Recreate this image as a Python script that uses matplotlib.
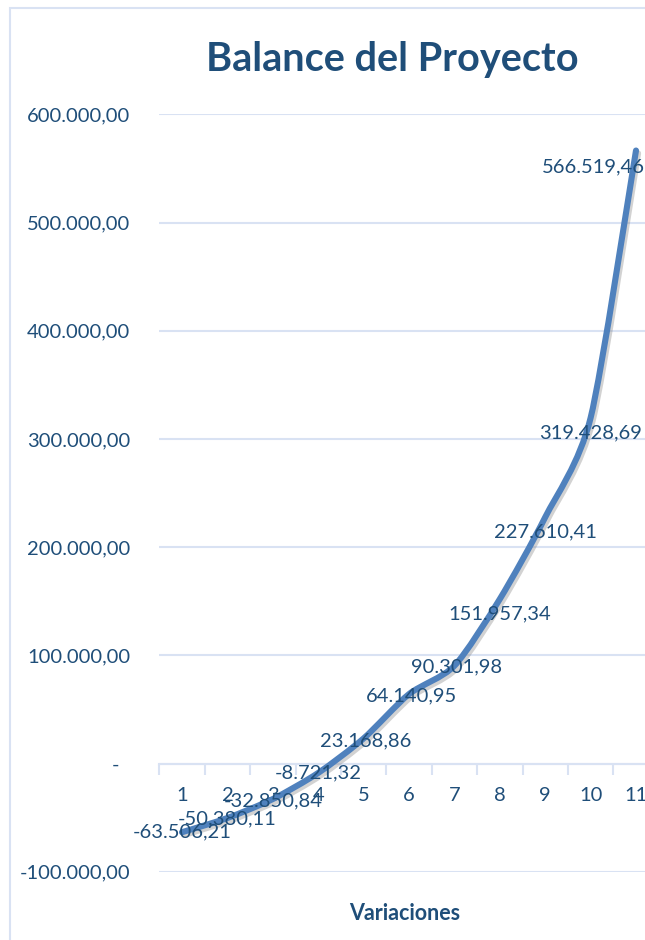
import numpy as np
import matplotlib
matplotlib.use("Agg")
import matplotlib.pyplot as plt
from matplotlib.path import Path
from matplotlib.patches import PathPatch, Rectangle
import matplotlib.patheffects as pe
from matplotlib.ticker import FuncFormatter, FixedLocator

# Balance del proyecto por variación
variaciones = [1, 2, 3, 4, 5, 6, 7, 8, 9, 10, 11]
balance = [-63506.21, -50380.11, -32850.84, -8721.32, 23168.86, 64140.95,
           90301.98, 151957.34, 227610.41, 319428.69, 566519.46]
y_ticks = [-100000, 0, 100000, 200000, 300000, 400000, 500000, 600000]

# offsets (pixels) for the value labels
label_dx = [0, 0, 0, 0, 2, 2, 2, 0, 0, 0, -94]
label_dy = [0, -1, -2, 0, -2, -2, -1, -15, -15, -15, -16]

azul = "#1F4E79"
linea = "#4F81BD"
rejilla = "#D9E2F3"

plt.rcParams['font.family'] = ['Lato', 'DejaVu Sans']


def es_num(v):
    s = f"{abs(v):,.2f}".replace(",", "X").replace(".", ",").replace("X", ".")
    return ("-" if v < 0 else "") + s


def fmt_y(v, pos):
    if abs(v) < 1e-9:
        return "-  "
    return es_num(v)


fig = plt.figure(figsize=(6.45, 9.40), dpi=100)
W, H = 645, 940
ax = fig.add_axes([159.3 / W, 1 - 871.7 / H, 499.4 / W, 757.4 / H])

# smoothed line as cubic bezier segments
tension = 1 / 8.0
pts = np.column_stack([variaciones, balance]).astype(float)
ext = np.vstack([pts[0], pts, pts[-1]])
verts = [tuple(pts[0])]
codes = [Path.MOVETO]
for i in range(1, len(ext) - 2):
    p0, p1, p2, p3 = ext[i - 1], ext[i], ext[i + 1], ext[i + 2]
    c1 = p1 + (p2 - p0) * tension
    c2 = p2 - (p3 - p1) * tension
    verts += [tuple(c1), tuple(c2), tuple(p2)]
    codes += [Path.CURVE4] * 3
curva = PathPatch(Path(verts, codes), facecolor="none", edgecolor=linea,
                  lw=4.4, capstyle="round", joinstyle="round", zorder=3)
curva.set_path_effects([pe.SimpleLineShadow(offset=(1.5, -2), shadow_color="gray", alpha=0.35),
                        pe.Normal()])
ax.add_patch(curva)

ax.set_xlim(0.5, 11.5)
ax.set_ylim(-100000, 600000)

# value labels
for x, v, dx, dy in zip(variaciones, balance, label_dx, label_dy):
    ha = "left" if dx < -50 else "center"
    ax.annotate(es_num(v), xy=(x, v), xytext=(dx, dy), textcoords="offset pixels",
                ha=ha, va="center", fontsize=14.5, color=azul, zorder=4,
                annotation_clip=False)

# axes styling
for s in ["top", "right", "left"]:
    ax.spines[s].set_visible(False)
ax.spines["bottom"].set_position(("data", 0))
ax.spines["bottom"].set_color(rejilla)
ax.spines["bottom"].set_linewidth(1.5)
ax.spines["bottom"].set_zorder(1)

ax.yaxis.set_major_locator(FixedLocator(y_ticks))
ax.yaxis.set_major_formatter(FuncFormatter(fmt_y))
ax.tick_params(axis="y", length=0, pad=21, labelsize=14.5, labelcolor=azul)
ax.grid(axis="y", color=rejilla, lw=1.5, zorder=0)

ax.set_xticks(np.arange(0.5, 12, 1))
ax.set_xticklabels([])
ax.set_xticks(variaciones, minor=True)
ax.set_xticklabels([str(v) for v in variaciones], minor=True)
ax.tick_params(axis="x", which="major", length=8, width=1.5, color=rejilla, direction="out")
ax.tick_params(axis="x", which="minor", length=0, pad=17, labelsize=14.5, labelcolor=azul)

fig.text(392 / W, 1 - 60 / H, "Balance del Proyecto", ha="center", va="center",
         fontsize=28.5, fontweight="bold", color=azul)
fig.text(405 / W, 1 - 913 / H, "Variaciones", ha="center", va="center",
         fontsize=15.5, fontweight="bold", color=azul)

fig.add_artist(Rectangle((10 / W, -0.05), 1.2, 1.05 - 8 / H, transform=fig.transFigure,
                         facecolor="none", edgecolor=rejilla, lw=1.5, clip_on=False))

fig.savefig("out.png", dpi=100)
